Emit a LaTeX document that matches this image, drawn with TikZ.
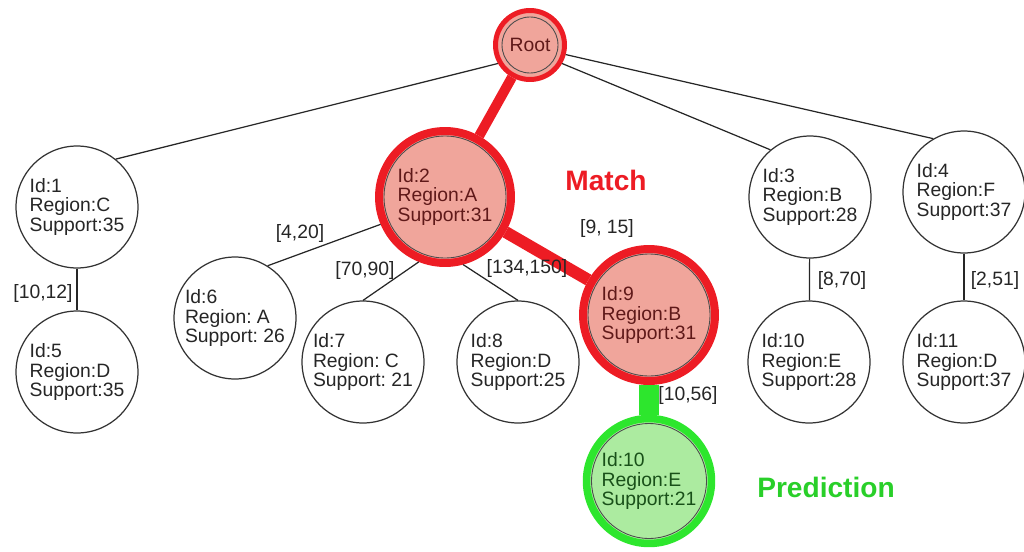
\documentclass[tikz,border=0pt]{standalone}
\usepackage{fontspec}
\setmainfont{Liberation Sans}
\frenchspacing
\usetikzlibrary{positioning}
\definecolor{MatchRed}{RGB}{237,28,36}
\definecolor{MatchFill}{RGB}{240,165,155}
\definecolor{MatchText}{RGB}{95,25,25}
\definecolor{PredGreen}{RGB}{45,230,45}
\definecolor{PredFill}{RGB}{172,235,160}
\definecolor{PredText}{RGB}{25,80,25}
\newcommand{\treefont}{\fontsize{11}{11.3}\selectfont}
\tikzset{
  treenode/.style={circle,draw=black!80,line width=0.7pt,fill=white,
    minimum size=2.44cm,inner sep=0pt,align=left,font=\treefont,text=black!85},
  ring/.style={path picture={\draw[black!70,line width=0.5pt]
    (path picture bounding box.center) circle (#1);}},
  matchnode/.style={treenode,draw=MatchRed,line width=0.16cm,fill=MatchFill,
    minimum size=2.64cm,text=MatchText,ring=1.22cm},
  rootnode/.style={treenode,draw=MatchRed,line width=0.1cm,fill=MatchFill,
    minimum size=1.38cm,text=MatchText,ring=0.56cm},
  prednode/.style={treenode,draw=PredGreen,line width=0.15cm,fill=PredFill,
    minimum size=2.5cm,text=PredText,ring=1.15cm},
  treeedge/.style={draw=black!85,line width=0.7pt},
  matchedge/.style={draw=MatchRed,line width=#1},
  prededge/.style={draw=PredGreen,line width=0.4cm},
  edgelabel/.style={font=\treefont,text=black!85,inner sep=1pt},
  tag/.style={font=\fontsize{16}{18}\selectfont\bfseries},
}
\begin{document}
\begin{tikzpicture}[x=0.02cm,y=-0.02cm]
  \useasboundingbox (0,0) rectangle (1024,551);
  % tree nodes
  \node[rootnode] (root) at (530,45) {Root};
  \node[treenode] (n1) at (77,207) {Id:1\\Region:C\\Support:35};
  \node[matchnode] (n2) at (445,197) {Id:2\\Region:A\\Support:31};
  \node[treenode] (n3) at (810,197) {Id:3\\Region:B\\Support:28};
  \node[treenode] (n4) at (964,192) {Id:4\\Region:F\\Support:37};
  \node[treenode] (n5) at (77,372) {Id:5\\Region:D\\Support:35};
  \node[treenode] (n6) at (235,318) {Id:6\\Region: A\\Support: 26};
  \node[treenode] (n7) at (363,362) {Id:7\\Region: C\\Support: 21};
  \node[treenode] (n8) at (518,362) {Id:8\\Region:D\\Support:25};
  \node[matchnode] (n9) at (649,315) {Id:9\\Region:B\\Support:31};
  \node[treenode] (n10) at (809,362) {Id:10\\Region:E\\Support:28};
  \node[treenode] (n11) at (964,362) {Id:11\\Region:D\\Support:37};
  \node[prednode] (p10) at (649,481) {Id:10\\Region:E\\Support:21};
  % edges
  \draw[treeedge] (root.210) -- (n1.51);
  \draw[treeedge] (root.330) -- (n3.130);
  \draw[treeedge] (root.345) -- (n4.120);
  \draw[matchedge=0.2cm] (root) -- (n2);
  \draw[treeedge] (n1) -- (n5);
  \draw[treeedge] (n2.203) -- (n6.58);
  \draw[treeedge] (n2.248) -- (n7.90);
  \draw[treeedge] (n2.285) -- (n8.90);
  \draw[matchedge=0.24cm] (n2) -- (n9);
  \draw[prededge] (n9) -- (p10);
  \draw[treeedge] (n3) -- (n10);
  \draw[treeedge] (n4) -- (n11);
  % edge labels
  \node[edgelabel] (l5) at (43,293) {[10,12]};
  \node[edgelabel] (l6) at (300,233) {[4,20]};
  \node[edgelabel] (l7) at (365,270) {[70,90]};
  \node[edgelabel] (l8) at (527,268) {[134,150]};
  \node[edgelabel] (l9) at (607,228) {[9, 15]};
  \node[edgelabel] (lp) at (688,395) {[10,56]};
  \node[edgelabel] (l10) at (842,280) {[8,70]};
  \node[edgelabel] (l11) at (995,280) {[2,51]};
  % tags
  \node[tag,text=MatchRed] (match) at (606,180) {Match};
  \node[tag,text=PredGreen!90!black] (pred) at (826,487) {Prediction};
\end{tikzpicture}
\end{document}
